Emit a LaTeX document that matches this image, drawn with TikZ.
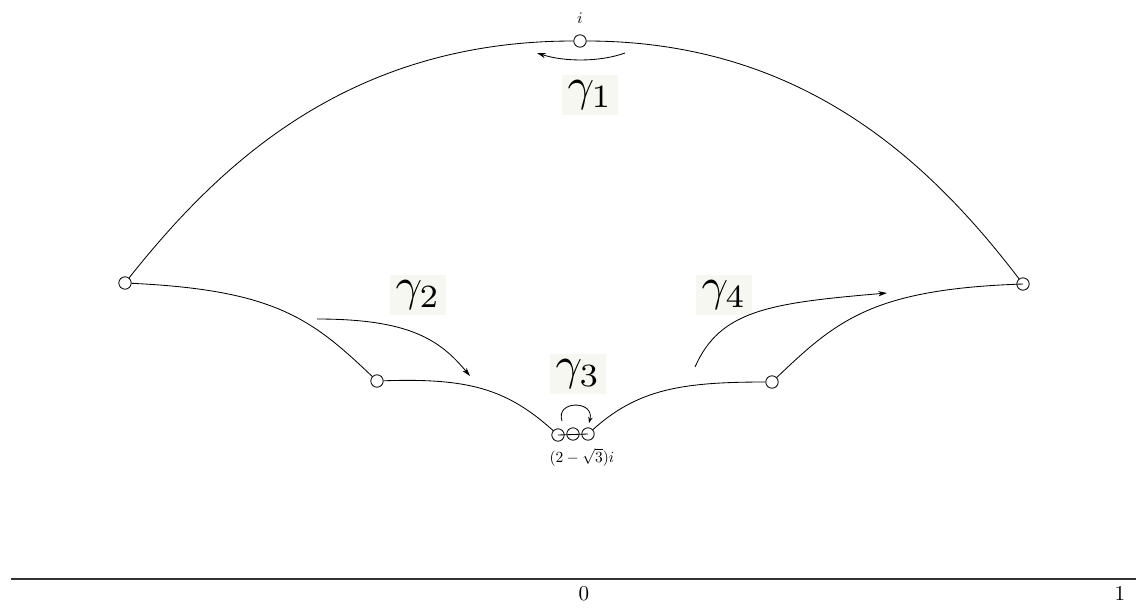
\documentclass[tikz,border=0pt]{standalone}
\usepackage{amsmath,amssymb}
\usepackage{tikz}
\usetikzlibrary{positioning,arrows.meta}
\definecolor{labbg}{RGB}{245,247,240}
\tikzset{
  pt/.style={circle, draw, line width=0.6pt, minimum size=3.1mm, inner sep=0pt},
  geo/.style={line width=0.6pt},
  mov/.style={line width=0.6pt, -{Stealth[length=2.2mm, width=1.3mm]}},
  movs/.style={line width=0.6pt, -{Stealth[length=1.5mm, width=1.1mm]}},
  gam/.style={fill=labbg, inner sep=4pt},
  lab/.style={inner sep=1pt},
}
\newcommand{\biglab}[1]{\scalebox{3.3}{$#1$}}
\begin{document}
\begin{tikzpicture}[x=0.25mm, y=-0.25mm]
  \useasboundingbox (0,0) rectangle (1136,608);
  % vertices of the domain
  \node[pt] (top) at (580,41) {};
  \node[pt] (pl) at (125,283) {};
  \node[pt] (pr) at (1023,284) {};
  \node[pt] (ql) at (377,381) {};
  \node[pt] (qr) at (772,382) {};
  \node[pt] (b1) at (558,435) {};
  \node[pt] (b2) at (573,434) {};
  \node[pt] (b3) at (588,434) {};
  \node[lab] (ilab) at (580,18) {\scalebox{1.15}{$i$}};
  \node[lab] (blab) at (582,457) {\scalebox{1.1}{$(2-\sqrt{3})i$}};
  % labels of the side pairings
  \node[gam] (l1) at (590,95) {\biglab{\gamma_1}};
  \node[gam] (l2) at (418,295) {\biglab{\gamma_2}};
  \node[gam] (l3) at (578,374) {\biglab{\gamma_3}};
  \node[gam] (l4) at (724,295) {\biglab{\gamma_4}};
  % sides
  \draw[geo] (pl) .. controls +(93,-117) and +(-233,0) .. (top);
  \draw[geo] (top) .. controls +(225,0) and +(-91,-119) .. (pr);
  \draw[geo] (pl) .. controls +(150,7) and +(-65,-62) .. (ql);
  \draw[geo] (ql) .. controls +(90,-3) and +(-52,-47) .. (b1);
  \draw[geo] (b1.center) -- (b3.center);
  \draw[geo] (b3) .. controls +(50,-45) and +(-90,0) .. (qr);
  \draw[geo] (qr) .. controls +(65,-62) and +(-150,5) .. (pr.center);
  % arrows
  \coordinate (g1s) at (625,53);
  \coordinate (g1e) at (537,53);
  \coordinate (g2s) at (317,319);
  \coordinate (g2e) at (470,376);
  \coordinate (g3s) at (562,421);
  \coordinate (g3e) at (589,423);
  \coordinate (g4s) at (695,367);
  \coordinate (g4e) at (887,293);
  \draw[mov] (g1s) .. controls +(-25,9) and +(28,9) .. (g1e);
  \draw[mov] (g2s) .. controls +(93,0) and +(-30,-36) .. (g2e);
  \draw[movs] (g3s) .. controls +(-7,-21) and +(6,-23) .. (g3e);
  \draw[mov] (g4s) .. controls +(25,-57) and +(-117,10) .. (g4e);
  % real axis
  \coordinate (ax0) at (11,579);
  \coordinate (ax1) at (1136,579);
  \draw[line width=1.2pt, black!80] (ax0) -- (ax1);
  \node[lab] (zero) at (584,594) {\scalebox{1.5}{$0$}};
  \node[lab] (one) at (1120,594) {\scalebox{1.5}{$1$}};
\end{tikzpicture}
\end{document}
